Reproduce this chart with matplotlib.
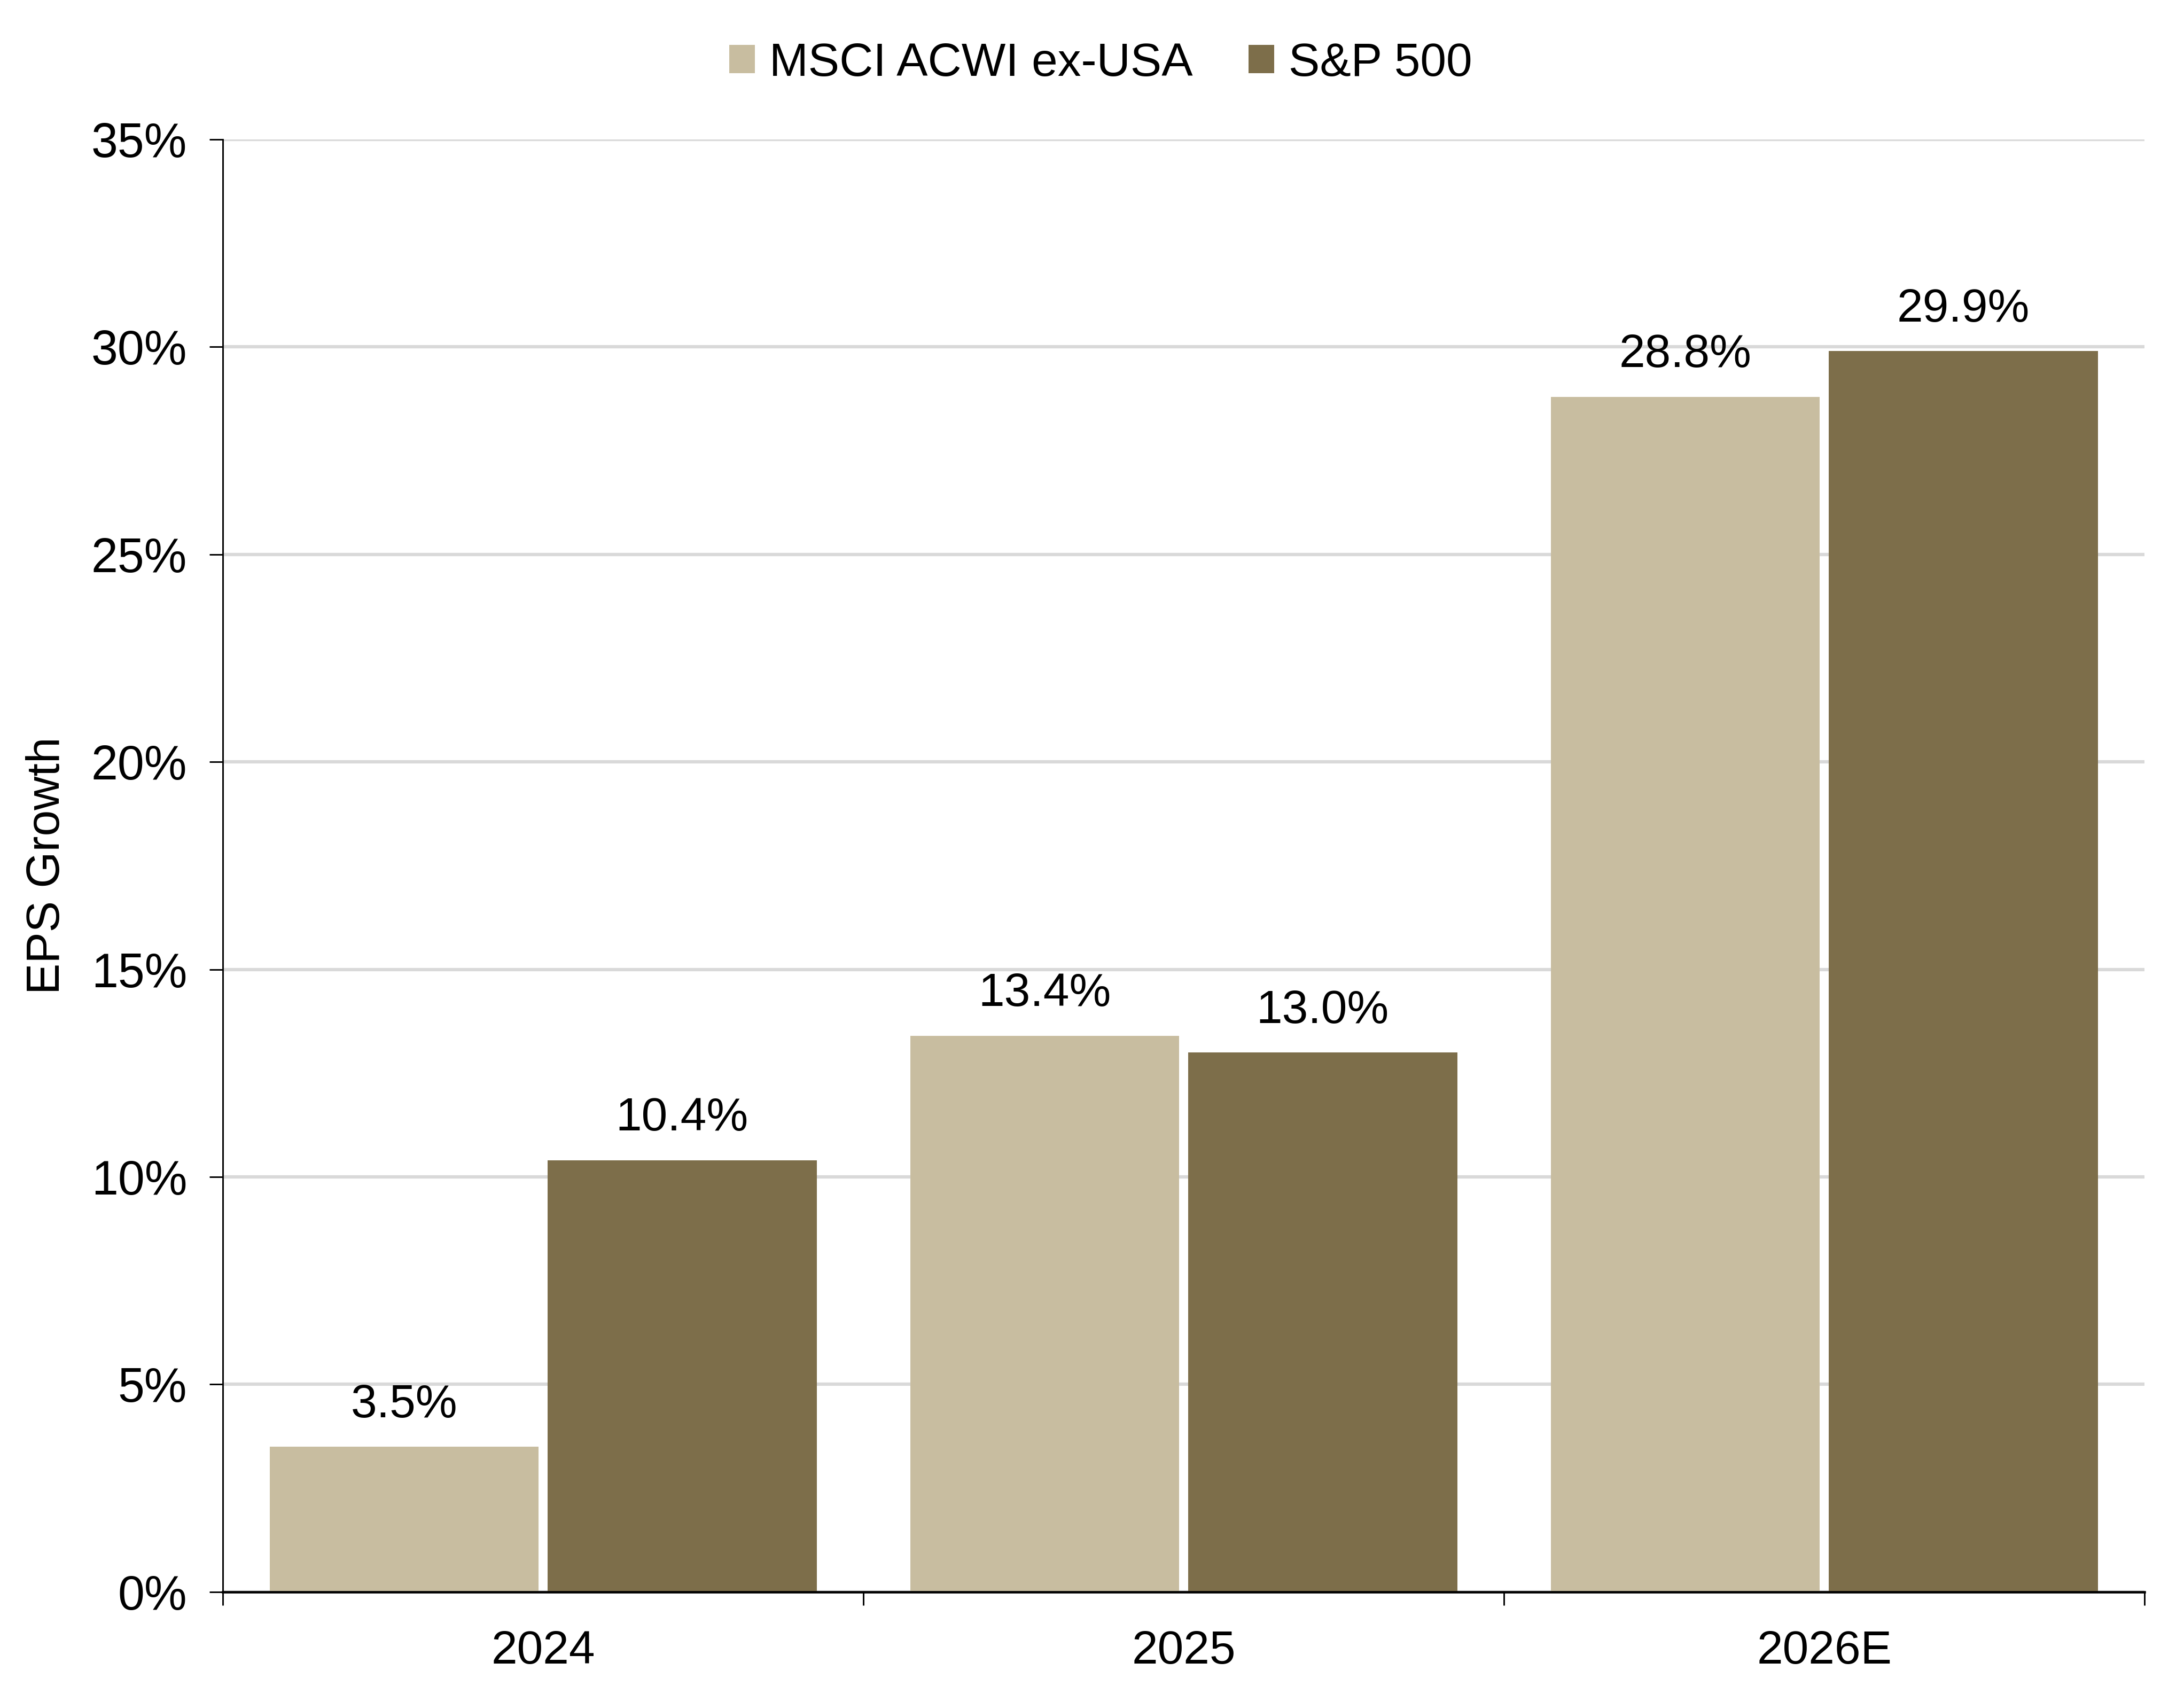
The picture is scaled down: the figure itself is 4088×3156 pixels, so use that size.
import numpy as np
import matplotlib.pyplot as plt
from matplotlib.ticker import FixedLocator, FuncFormatter

plt.rcParams['font.family'] = ['Liberation Sans', 'DejaVu Sans']

years     = ['2024', '2025', '2026E']
acwi_exus = [3.5, 13.4, 28.8]
sp500     = [10.4, 13.0, 29.9]

c_light = '#C8BDA0'
c_dark  = '#7D6E4A'

fig = plt.figure(figsize=(4088/300, 3156/300), dpi=300)
ax = fig.add_axes([0.102, 0.0558, 0.880, 0.8615])

x = np.arange(len(years))
w = 0.42
b1 = ax.bar(x - 0.217, acwi_exus, w, color=c_light, label='MSCI ACWI ex-USA', zorder=3)
b2 = ax.bar(x + 0.217, sp500, w, color=c_dark, label='S&P 500', zorder=3)

for bars in (b1, b2):
    ax.bar_label(bars, labels=['%.1f%%' % v for v in bars.datavalues],
                 padding=9, fontsize=21)

ax.set_xlim(-0.5, 2.5)
ax.set_ylim(0, 35)
ax.set_yticks(np.arange(0, 36, 5))
ax.yaxis.set_major_formatter(FuncFormatter(lambda v, p: '%d%%' % v))
ax.set_xticks(x)
ax.set_xticklabels(years)
ax.xaxis.set_minor_locator(FixedLocator([-0.5, 0.5, 1.5, 2.5]))
ax.tick_params(axis='x', which='major', length=0, pad=17, labelsize=21)
ax.tick_params(axis='x', which='minor', length=6, width=0.7, direction='out')
ax.tick_params(axis='y', length=6, width=0.7, labelsize=21.5, pad=10)

ax.grid(axis='y', color='#D9D9D9', linewidth=1.5, zorder=0)
ax.set_axisbelow(True)
for s in ['top', 'right']:
    ax.spines[s].set_visible(False)
ax.spines['left'].set_linewidth(0.7)
ax.spines['bottom'].set_linewidth(1.1)
ax.spines['bottom'].set_zorder(4)

ax.set_ylabel('EPS Growth', fontsize=21, labelpad=10)

fig.legend(loc='upper center', bbox_to_anchor=(0.504, 1.0), ncol=2, frameon=False,
           fontsize=21, handlelength=0.55, handleheight=0.55, handletextpad=0.3,
           columnspacing=1.2)

plt.savefig('out.png', dpi=300)
